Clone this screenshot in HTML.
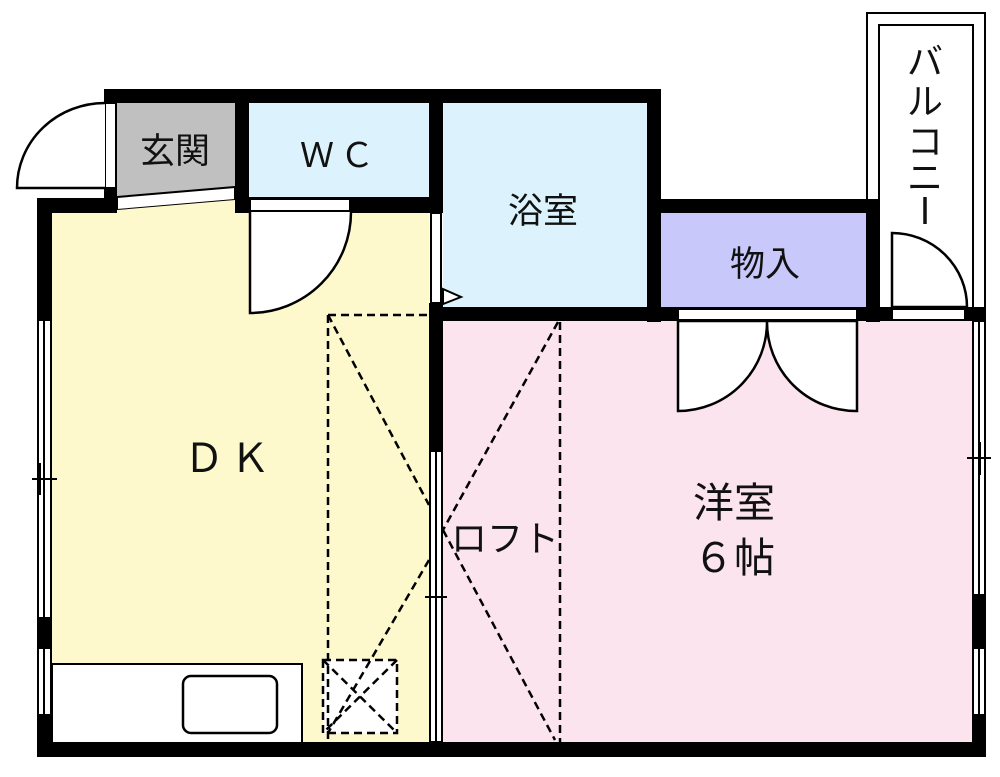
<!DOCTYPE html>
<html><head><meta charset="utf-8"><style>
html,body{margin:0;padding:0;background:#fff;}
svg{display:block;}
text{font-family:"Liberation Sans","Noto Sans CJK JP",sans-serif;fill:#111;}
</style></head><body>
<svg width="1000" height="777" viewBox="0 0 1000 777" xmlns="http://www.w3.org/2000/svg">
<rect x="867" y="13" width="118" height="300" fill="#fff" stroke="#000" stroke-width="2"/>
<rect x="879" y="25" width="94" height="290" fill="#fff" stroke="#000" stroke-width="2"/>
<rect x="52" y="213" width="377" height="530" fill="#fdf9cc"/>
<rect x="117" y="103" width="118" height="95" fill="#c0c0c0"/>
<rect x="249" y="103" width="180" height="95" fill="#dcf3fd"/>
<rect x="443" y="103" width="205" height="205" fill="#dcf3fd"/>
<rect x="661" y="213" width="205" height="94" fill="#c8c8fa"/>
<rect x="443" y="321" width="529" height="422" fill="#fce4ef"/>
<polygon points="117,197 235,187 235,200 117,210" fill="#fff" stroke="#000" stroke-width="2"/>
<polygon points="117,210 235,200 235,213 117,213" fill="#fdf9cc"/>
<g fill="#000">
<rect x="104" y="89" width="557" height="14"/>
<rect x="104" y="89" width="13" height="124"/>
<rect x="37" y="198" width="80" height="15"/>
<rect x="37" y="198" width="15" height="559"/>
<rect x="235" y="103" width="14" height="110"/>
<rect x="235" y="197" width="202" height="16"/>
<rect x="429" y="103" width="14" height="110"/>
<rect x="429" y="303" width="14" height="147"/>
<rect x="647" y="89" width="14" height="233"/>
<rect x="647" y="199" width="233" height="14"/>
<rect x="866" y="199" width="14" height="123"/>
<rect x="429" y="307" width="557" height="14"/>
<rect x="972" y="307" width="14" height="450"/>
<rect x="37" y="742" width="949" height="15"/>
</g>
<rect x="105" y="103" width="11" height="85" fill="#fff" stroke="#000" stroke-width="2"/>
<path d="M105,103 A88,85 0 0 0 17,188 L105,188" fill="#fff" stroke="#000" stroke-width="2.5"/>
<rect x="250" y="199" width="100" height="12" fill="#fff" stroke="#000" stroke-width="2"/>
<path d="M250,212 L250,313 A101,101 0 0 0 351,212" fill="#fff" stroke="#000" stroke-width="2.5"/>
<rect x="431" y="213" width="10" height="90" fill="#fff" stroke="#000" stroke-width="2"/>
<polygon points="443,289 461,297 443,304" fill="#fff" stroke="#000" stroke-width="2"/>
<rect x="678" y="309" width="179" height="11" fill="#fff" stroke="#000" stroke-width="2"/>
<path d="M678,321 L678,411 A89,89 0 0 0 767,321 A89,89 0 0 0 857,411 L857,321 Z" fill="#fff" stroke="#000" stroke-width="2.5"/>
<rect x="892" y="309" width="73" height="11" fill="#fff" stroke="#000" stroke-width="2"/>
<path d="M892,307 L892,233 A75,74 0 0 1 967,307 Z" fill="#fff" stroke="#000" stroke-width="2.5"/>
<g fill="#fff" stroke="#000" stroke-width="2">
<rect x="38" y="320" width="13" height="298"/>
<rect x="38" y="648" width="13" height="67"/>
<rect x="430" y="451" width="12" height="291"/>
<rect x="973" y="321" width="12" height="274"/>
<rect x="973" y="648" width="12" height="67"/>
</g>
<g stroke="#000" stroke-width="2">
<line x1="44" y1="320" x2="44" y2="618"/><line x1="44" y1="648" x2="44" y2="715"/>
<line x1="436" y1="451" x2="436" y2="742"/>
<line x1="979" y1="321" x2="979" y2="595"/><line x1="979" y1="648" x2="979" y2="715"/>
<line x1="32" y1="479" x2="57" y2="479"/><line x1="40" y1="463" x2="40" y2="495"/>
<line x1="425" y1="597" x2="447" y2="597"/><line x1="436" y1="578" x2="436" y2="615"/>
<line x1="967" y1="458" x2="991" y2="458"/><line x1="980" y1="442" x2="980" y2="475"/>
</g>
<rect x="52" y="664" width="250" height="79" fill="#fff" stroke="#000" stroke-width="2"/>
<rect x="183" y="676" width="94" height="57" rx="8" fill="#fff" stroke="#000" stroke-width="2.5"/>
<rect x="323" y="660" width="74" height="73" fill="#fff"/>
<g fill="none" stroke="#000" stroke-width="2.5" stroke-dasharray="8,5">
<line x1="328" y1="315" x2="328" y2="742"/>
<line x1="328" y1="315" x2="428" y2="315"/>
<line x1="328" y1="315" x2="429" y2="505"/>
<line x1="429" y1="560" x2="328" y2="733"/>
<line x1="558" y1="322" x2="443" y2="530"/>
<line x1="443" y1="530" x2="555" y2="740"/>
<line x1="560" y1="322" x2="560" y2="742"/>
<rect x="323" y="660" width="74" height="73"/>
<line x1="323" y1="660" x2="397" y2="733"/>
<line x1="397" y1="660" x2="323" y2="733"/>
</g>
<text x="175" y="163" font-size="35" text-anchor="middle">玄関</text>
<text x="340" y="167" font-size="34" text-anchor="middle" letter-spacing="6">ＷＣ</text>
<text x="543" y="223" font-size="35" text-anchor="middle">浴室</text>
<text x="765" y="276" font-size="35" text-anchor="middle">物入</text>
<text x="230" y="472" font-size="40" text-anchor="middle" letter-spacing="6">ＤＫ</text>
<text x="734" y="517" font-size="41" text-anchor="middle">洋室</text>
<text x="734" y="572" font-size="41" text-anchor="middle">６帖</text>
<text x="505" y="551" font-size="36" text-anchor="middle">ロフト</text>
<g font-size="36" text-anchor="middle">
<text x="925" y="74">バ</text>
<text x="925" y="114">ル</text>
<text x="925" y="154">コ</text>
<text x="925" y="190">ニ</text>
</g>
<line x1="925" y1="197" x2="925" y2="224" stroke="#111" stroke-width="3.5"/>
</svg>
</body></html>
